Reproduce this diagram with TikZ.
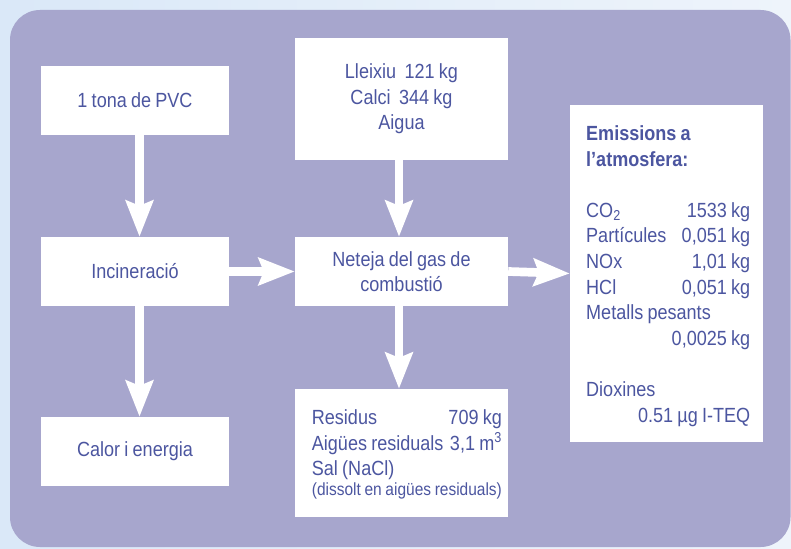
\documentclass[tikz,border=0pt]{standalone}
\usepackage{fontspec}
\setmainfont[FakeStretch=0.88,WordSpace=0.85]{Liberation Sans}
\usetikzlibrary{arrows.meta}
\definecolor{bgA}{HTML}{DAE8F8}
\definecolor{bgB}{HTML}{EEF4FB}
\definecolor{panel}{HTML}{A7A6CD}
\definecolor{ink}{HTML}{4C56A0}
\newcommand{\rowline}[2]{\makebox[\linewidth][l]{#1\hfill #2}}
\tikzset{
  box/.style={fill=white, draw=none, inner sep=0pt, align=center, text=ink,
    font=\fontsize{20.5}{25.6}\selectfont},
  txt/.style={inner sep=0pt, align=left, text=ink, anchor=north west,
    font=\fontsize{20.5}{25.6}\selectfont},
  arr/.style={draw=white, line width=8.7pt,
    -{Stealth[length=36pt,width=27pt,inset=5pt]}},
}
\begin{document}
\begin{tikzpicture}[x=1pt,y=-1pt]
\useasboundingbox (0,0) rectangle (791,548);
\shade[left color=bgA, right color=bgB] (0,0) rectangle (791,548);
\fill[panel, rounded corners=30pt] (10,10) rectangle (790.5,547);

% boxes
\node[box, minimum width=188pt, minimum height=69pt] (pvc) at (135,100.5) {1 tona de PVC};
\node[box, minimum width=188pt, minimum height=69pt] (inc) at (135,271.5) {Incineració};
\node[box, minimum width=188pt, minimum height=69pt] (cal) at (135,451.5) {Calor i energia};
\node[box, minimum width=213pt, minimum height=122pt] (lle) at (401.5,99) {Lleixiu\ \ 121 kg\\Calci\ \ 344 kg\\Aigua};
\node[box, minimum width=213pt, minimum height=69pt] (net) at (401.5,271.5) {Neteja del gas de\\combustió};
\node[box, minimum width=213pt, minimum height=128pt] (res) at (401.5,453) {};
\node[box, minimum width=193pt, minimum height=337pt] (emi) at (666.5,273.5) {};

% texts inside the two list boxes
\node[txt, text width=190pt] (restxt) at (311.7,409.5) {\spaceskip=0pt\xspaceskip=0pt\relax
\rowline{Residus}{709 kg}\\
\rowline{Aigües residuals}{3,1 m\textsuperscript{3}}\\
Sal (NaCl)\\[-5.6pt]
\mbox{\fontsize{17.6}{20}\selectfont (dissolt en aigües residuals)}};

\node[txt, text width=164pt] (emitxt) at (586,125.5) {\spaceskip=0pt\xspaceskip=0pt\relax
{\bfseries Emissions a\\
l’atmosfera:}\\[25.6pt]
\rowline{CO\textsubscript{2}}{1533 kg}\\
\rowline{Partícules}{0,051 kg}\\
\rowline{NOx}{1,01 kg}\\
\rowline{HCl}{0,051 kg}\\
Metalls pesants\\
\rowline{}{0,0025 kg}\\[25.6pt]
Dioxines\\
\rowline{}{0.51 µg I-TEQ}};

% arrows
\draw[arr] ([xshift=4.5pt]pvc.south) -- ([xshift=4.5pt]inc.north);
\draw[arr] ([xshift=4.5pt]inc.south) -- ([xshift=4.5pt]cal.north);
\draw[arr] ([xshift=-2.5pt]lle.south) -- ([xshift=-2.5pt]net.north);
\draw[arr] ([xshift=-2.5pt]net.south) -- ([xshift=-2.5pt]res.north);
\draw[arr] (inc.east) -- (net.west);
\draw[arr] (net.east) -- (emi.west);
\end{tikzpicture}
\end{document}
